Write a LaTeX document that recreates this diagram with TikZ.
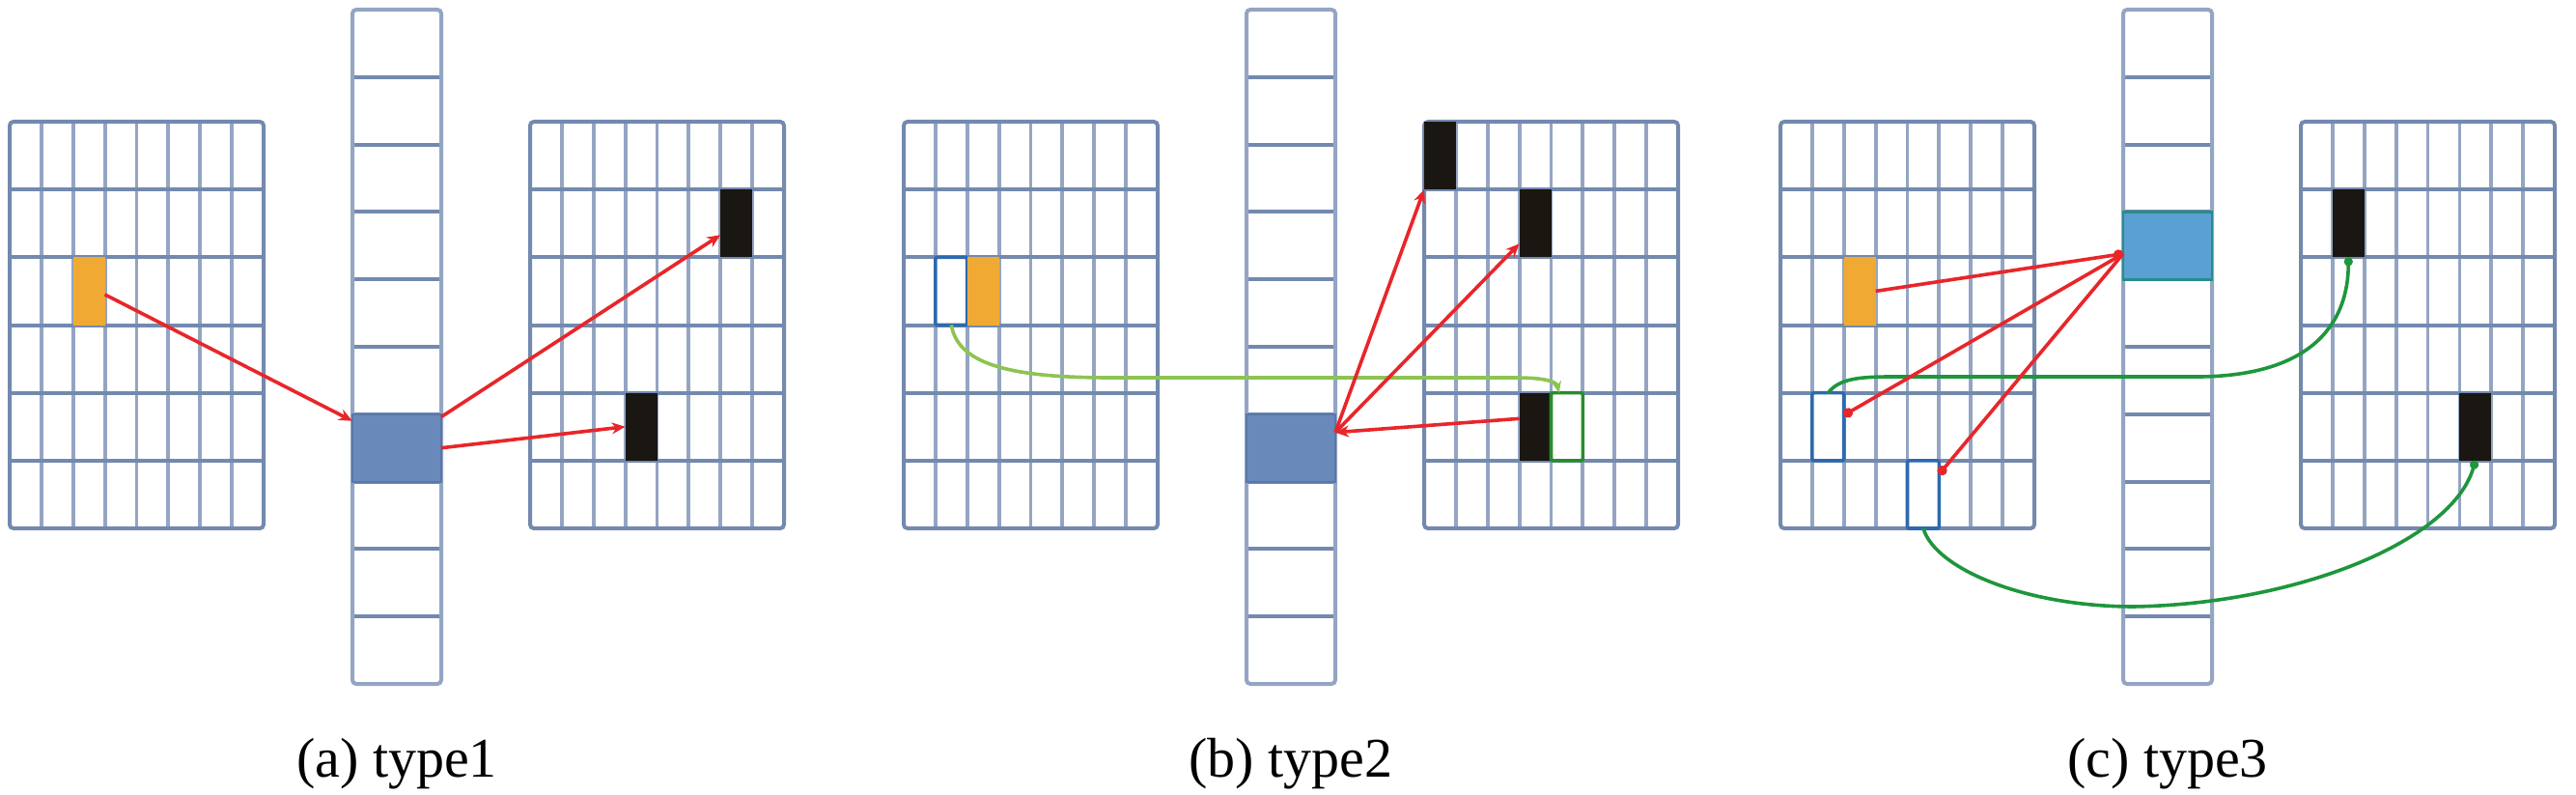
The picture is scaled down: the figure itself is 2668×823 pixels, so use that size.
\documentclass[tikz,border=0pt]{standalone}
\usepackage{fontspec}
\setmainfont{Liberation Serif}
\usetikzlibrary{arrows.meta,calc}
\definecolor{gridh}{RGB}{115,137,174}
\definecolor{gridv}{RGB}{148,165,195}
\definecolor{orng}{RGB}{240,170,52}
\definecolor{bluecell}{RGB}{104,137,186}
\definecolor{blueedge}{RGB}{88,120,172}
\definecolor{bluecellc}{RGB}{90,160,210}
\definecolor{tealedge}{RGB}{40,140,140}
\definecolor{blk}{RGB}{26,22,18}
\definecolor{redl}{RGB}{232,38,42}
\definecolor{greenb}{RGB}{141,196,81}
\definecolor{greenc}{RGB}{30,150,60}
\definecolor{outblue}{RGB}{45,105,175}
\definecolor{outgreen}{RGB}{40,140,45}

\newcommand\drawgrid[1]{%
  \foreach \k in {1,...,7}
    \draw[gridv, line width=1.9pt] ({#1+\k*32.875},126) -- ({#1+\k*32.875},547);
  \foreach \k in {1,...,5}
    \draw[gridh, line width=2pt] (#1,{126+\k*70.17}) -- ({#1+263},{126+\k*70.17});
  \draw[gridh, line width=2pt, rounded corners=2pt] (#1,126) rectangle ({#1+263},547);
}
\newcommand\drawstrip[1]{%
  \foreach \k in {1,...,9}
    \draw[gridh, line width=2pt] (#1,{10+\k*69.8}) -- ({#1+92},{10+\k*69.8});
  \draw[gridv, line width=2pt, rounded corners=2pt] (#1,10) rectangle ({#1+92},708);
}

\tikzset{
  cell/.style={rectangle, inner sep=0pt, outer sep=0pt, minimum width=16.44pt, minimum height=35.08pt},
  scell/.style={rectangle, inner sep=0pt, outer sep=0pt, minimum width=46pt, minimum height=34.9pt},
  orangecell/.style={cell, fill=orng},
  blackcell/.style={cell, fill=blk},
  outcell/.style={cell, draw=outblue, line width=1.8pt, fill=white, rounded corners=1pt},
  stripblue/.style={scell, fill=bluecell, draw=blueedge, line width=1pt},
  stripbluec/.style={scell, fill=bluecellc, draw=tealedge, line width=1.4pt},
  redarrow/.style={draw=redl, line width=1.8pt, -{Stealth[length=7pt,width=6pt]}},
  redarrowc/.style={draw=redl, line width=1.8pt, -{Circle[length=5pt]}},
  greenarrowb/.style={draw=greenb, line width=1.8pt, -{Stealth[length=6pt,width=5pt]}},
  greenarrowc/.style={draw=greenc, line width=1.8pt, -{Circle[length=4.5pt]}},
  caption/.style={anchor=base, inner sep=0pt, font=\fontsize{29}{34}\selectfont, text=black}
}

\begin{document}
\begin{tikzpicture}[x=0.5pt, y=-0.5pt]
\useasboundingbox[fill=white] (0,0) rectangle (2668,823);

% ---------- panel (a)
\drawgrid{10}
\drawstrip{365}
\drawgrid{549}
\node[orangecell] (oa) at ({10+2.5*32.875},{126+2.5*70.17}) {};
\node[stripblue] (ba) at (411,{10+6.5*69.8}) {};
\node[blackcell] (ka1) at ({549+6.5*32.875},{126+1.5*70.17}) {};
\node[blackcell] (ka2) at ({549+3.5*32.875},{126+4.5*70.17}) {};
\draw[redarrow] ($(oa.north east)!0.55!(oa.south east)$) -- ($(ba.north west)!0.1!(ba.south west)$);
\draw[redarrow] ($(ba.north east)!0.04!(ba.south east)$) -- ($(ka1.north west)!0.67!(ka1.south west)$);
\draw[redarrow] (ba.east) -- (ka2.west);
\node[caption] (capa) at (411,804) {(a) type1};

% ---------- panel (b)
\drawgrid{936}
\drawstrip{1291}
\drawgrid{1475}
\node[outcell] (ob) at ({936+1.5*32.875},{126+2.5*70.17}) {};
\node[orangecell] (obo) at ({936+2.5*32.875},{126+2.5*70.17}) {};
\node[stripblue] (bb) at (1337,{10+6.5*69.8}) {};
\node[blackcell] (kb1) at ({1475+0.5*32.875},{126+0.5*70.17}) {};
\node[blackcell] (kb2) at ({1475+3.5*32.875},{126+1.5*70.17}) {};
\node[blackcell] (kb3) at ({1475+3.5*32.875},{126+4.5*70.17}) {};
\node[outcell, draw=outgreen] (gb) at ({1475+4.5*32.875},{126+4.5*70.17}) {};
\coordinate (hubb) at ($(bb.north east)!0.27!(bb.south east)$);
\draw[greenarrowb] (ob.south) .. controls (992,375) and (1040,391) .. (1150,391) -- (1570,391) .. controls (1600,391) and (1612,395) .. ($(gb.north west)!0.25!(gb.north east)$);
\draw[redarrow] (hubb) -- (kb1.south west);
\draw[redarrow] (hubb) -- ($(kb2.north west)!0.8!(kb2.south west)$);
\draw[redarrow] ($(kb3.north west)!0.38!(kb3.south west)$) -- (hubb);
\node[caption] (capb) at (1337,804) {(b) type2};

% ---------- panel (c)
\drawgrid{1844}
\drawstrip{2199}
\drawgrid{2383}
\node[orangecell] (oc) at ({1844+2.5*32.875},{126+2.5*70.17}) {};
\node[outcell] (c1) at ({1844+1.5*32.875},{126+4.5*70.17}) {};
\node[outcell] (c2) at ({1844+4.5*32.875},{126+5.5*70.17}) {};
\node[stripbluec] (bc) at (2245,{10+3.5*69.8}) {};
\node[blackcell] (kc1) at ({2383+1.5*32.875},{126+1.5*70.17}) {};
\node[blackcell] (kc2) at ({2383+5.5*32.875},{126+4.5*70.17}) {};
\coordinate (hubc) at ($(bc.north west)!0.62!(bc.south west)$);
\draw[greenarrowc] (c1.north) .. controls (1905,392) and (1925,390) .. (1960,390) -- (2280,390) .. controls (2400,388) and (2432,330) .. (kc1.south);
\draw[greenarrowc] (c2.south) .. controls (2005,590) and (2100,628) .. (2210,628) .. controls (2380,625) and (2540,560) .. (kc2.south);
\draw[redarrowc] (oc.east) -- (hubc);
\draw[redarrowc] (hubc) -- ($(c1.north east)!0.33!(c1.south east)$);
\draw[redarrowc] (hubc) -- ($(c2.north east)!0.2!(c2.south east)$);
\node[caption] (capc) at (2245,804) {(c) type3};
\end{tikzpicture}
\end{document}
